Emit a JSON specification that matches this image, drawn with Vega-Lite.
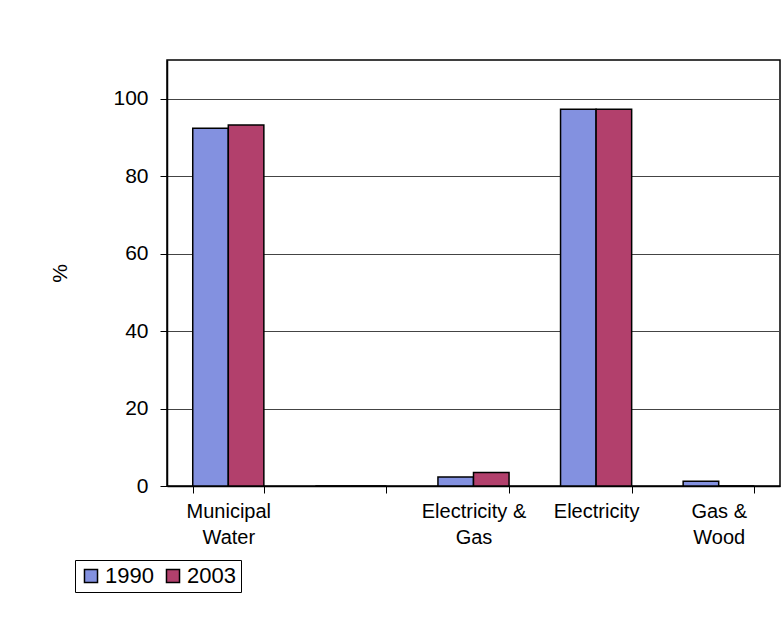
{
  "$schema": "https://vega.github.io/schema/vega-lite/v6.json",
  "autosize": "none",
  "width": 613,
  "height": 426,
  "padding": {"left": 167, "top": 60, "right": 2, "bottom": 132},
  "background": "white",
  "data": {
    "values": [
      {"category": "Municipal Water", "year": "1990", "percent": 92.4},
      {"category": "Municipal Water", "year": "2003", "percent": 93.2},
      {"category": "Other", "year": "1990", "percent": 0},
      {"category": "Other", "year": "2003", "percent": 0},
      {"category": "Electricity & Gas", "year": "1990", "percent": 2.3},
      {"category": "Electricity & Gas", "year": "2003", "percent": 3.5},
      {"category": "Electricity", "year": "1990", "percent": 97.3},
      {"category": "Electricity", "year": "2003", "percent": 97.3},
      {"category": "Gas & Wood", "year": "1990", "percent": 1.2},
      {"category": "Gas & Wood", "year": "2003", "percent": 0}
    ]
  },
  "mark": {"type": "bar", "stroke": "black", "strokeWidth": 1.5},
  "encoding": {
    "x": {
      "field": "category",
      "type": "nominal",
      "sort": ["Municipal Water", "Other", "Electricity & Gas", "Electricity", "Gas & Wood"],
      "scale": {"paddingInner": 0.42, "paddingOuter": 0.21},
      "axis": {
        "title": null,
        "labelAngle": 0,
        "labelFont": "Liberation Sans",
        "labelFontSize": 20,
        "labelColor": "black",
        "labelLineHeight": 26,
        "labelPadding": 8,
        "tickBand": "extent",
        "tickColor": "black",
        "tickSize": 7,
        "domainColor": "black",
        "domainWidth": 1.5,
        "labelExpr": "datum.value == 'Municipal Water' ? ['Municipal', 'Water'] : datum.value == 'Electricity & Gas' ? ['Electricity &', 'Gas'] : datum.value == 'Gas & Wood' ? ['Gas &', 'Wood'] : datum.value == 'Other' ? '' : datum.value"
      }
    },
    "xOffset": {"field": "year", "type": "nominal"},
    "y": {
      "field": "percent",
      "type": "quantitative",
      "scale": {"domain": [0, 110], "nice": false},
      "axis": {
        "title": "%",
        "titleFont": "Liberation Sans",
        "titleFontSize": 21,
        "titleFontWeight": "normal",
        "titleColor": "black",
        "titlePadding": 42,
        "values": [0, 20, 40, 60, 80, 100],
        "labelFont": "Liberation Sans",
        "labelFontSize": 21,
        "labelColor": "black",
        "labelPadding": 12,
        "tickColor": "black",
        "tickSize": 7,
        "domainColor": "black",
        "domainWidth": 1.5,
        "grid": true,
        "gridColor": "#444444",
        "gridWidth": 1.2
      }
    },
    "color": {
      "field": "year",
      "type": "nominal",
      "scale": {"domain": ["1990", "2003"], "range": ["#8391e0", "#b2406c"]},
      "legend": {
        "title": null,
        "orient": "none",
        "legendX": -92,
        "legendY": 500,
        "direction": "horizontal",
        "symbolType": "square",
        "symbolSize": 170,
        "symbolStrokeColor": "black",
        "symbolStrokeWidth": 1.5,
        "labelFont": "Liberation Sans",
        "labelFontSize": 22,
        "labelColor": "black",
        "labelOffset": 3,
        "columnPadding": 8,
        "strokeColor": "black",
        "fillColor": "white",
        "padding": 5
      }
    }
  },
  "config": {
    "view": {"stroke": "black", "strokeWidth": 1.5}
  }
}
